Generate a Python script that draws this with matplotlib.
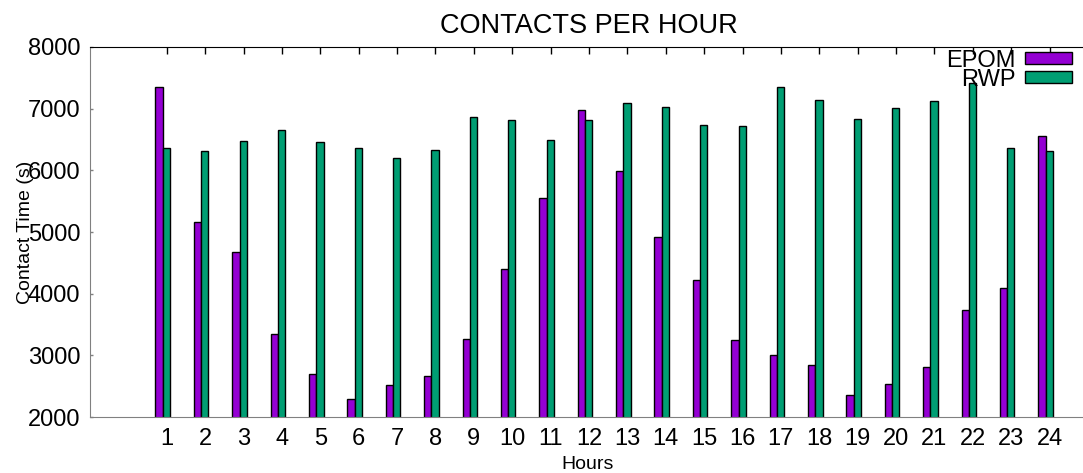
import matplotlib
matplotlib.use("Agg")
import matplotlib.pyplot as plt
from matplotlib.patches import Patch

# contact time per hour
hours = list(range(1, 25))
epom = [7351, 5162, 4681, 3341, 2697, 2287, 2519, 2660, 3265, 4405, 5557, 6984,
        5989, 4914, 4216, 3249, 3011, 2838, 2351, 2530, 2816, 3730, 4092, 6557]
rwp = [6362, 6308, 6470, 6649, 6454, 6362, 6200, 6324, 6860, 6811, 6486, 6811,
       7092, 7022, 6740, 6719, 7346, 7146, 6827, 7005, 7130, 7422, 6362, 6308]
y_ticks = [2000, 3000, 4000, 5000, 6000, 7000, 8000]

plt.rcParams['font.family'] = ['Liberation Sans', 'DejaVu Sans']

purple = '#9400d3'
green = '#009e73'
grey = '#808080'

fig = plt.figure(figsize=(10.83, 4.73), dpi=100)
ax = fig.add_axes([90 / 1083, 56 / 473, 998 / 1083, 370 / 473])

w = 0.19
ax.bar([h - 0.2 for h in hours], epom, width=w, color=purple,
       edgecolor='black', linewidth=1)
ax.bar([h - 0.01 for h in hours], rwp, width=w, color=green,
       edgecolor='black', linewidth=1)

ax.set_xlim(-1, 25)
ax.set_ylim(2000, 8000)
ax.set_xticks(hours)
ax.set_xticklabels([str(h) for h in hours])
ax.set_yticks(y_ticks)

ax.tick_params(axis='x', bottom=False, top=True, direction='in', length=5,
               width=1, color='black', labelsize=17, pad=8, labelbottom=True)
ax.tick_params(axis='y', left=True, right=False, direction='in', length=2,
               width=1, color=grey, labelsize=17, pad=7)

ax.spines['left'].set_color(grey)
ax.spines['bottom'].set_color(grey)
ax.spines['top'].set_color('black')
ax.spines['right'].set_color('black')

ax.set_title('CONTACTS PER HOUR', fontsize=19.5, pad=10)
ax.set_xlabel('Hours', fontsize=14)
ax.set_ylabel('Contact Time (s)', fontsize=14)
ax.xaxis.set_label_coords(0.499, -0.105)
ax.yaxis.set_label_coords(-0.056, 0.5)

handles = [Patch(facecolor=purple, edgecolor='black', label='EPOM'),
           Patch(facecolor=green, edgecolor='black', label='RWP')]
ax.legend(handles=handles, loc='upper right', bbox_to_anchor=(0.984, 0.993),
          frameon=False, markerfirst=False, fontsize=17, borderpad=0,
          labelspacing=-0.12, handlelength=2.0, handleheight=0.4,
          handletextpad=0.4, borderaxespad=0)

fig.savefig('out.png', dpi=100)
